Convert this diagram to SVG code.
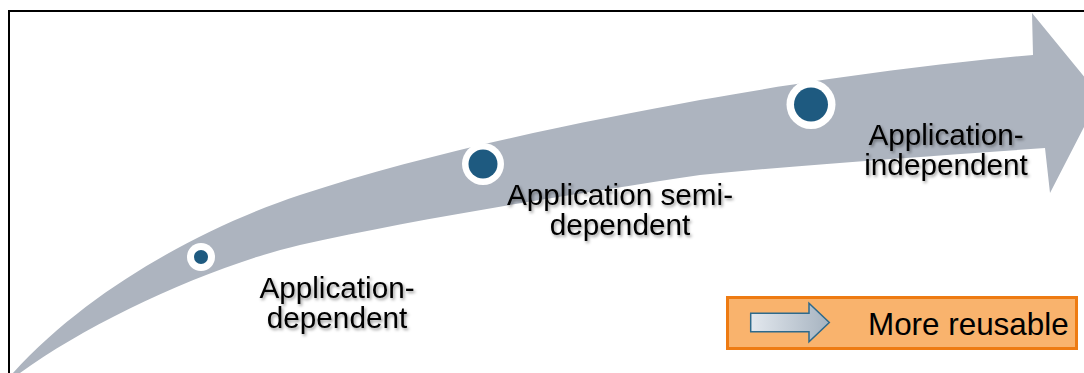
<svg xmlns="http://www.w3.org/2000/svg" width="1084" height="373" viewBox="0 0 1084 373">
<defs>
<filter id="sh" x="-10%" y="-20%" width="130%" height="150%">
<feDropShadow dx="1.5" dy="2" stdDeviation="1.4" flood-color="#000" flood-opacity="0.4"/>
</filter>
<linearGradient id="ag" x1="0" y1="0" x2="1" y2="0">
<stop offset="0" stop-color="#E3E8EE"/>
<stop offset="1" stop-color="#A6B3C0"/>
</linearGradient>
<style>
.lbl{font-family:"Liberation Sans",Arial,sans-serif;font-size:29.7px;fill:#000;text-anchor:middle;filter:url(#sh)}
.ring{fill:#fff}
.dot{fill:#1E5A80}
</style>
</defs>
<rect x="0" y="0" width="1084" height="373" fill="#fff"/>
<rect x="9" y="11" width="1100" height="400" fill="none" stroke="#000" stroke-width="2"/>
<g id="connectors">
<path id="band" d="M13,373 C93,285 210,225 300,195 C430,152 580,122 700,100 C800,82 930,64 1033,55 L1032,13 L1100,96 L1050,193 L1045,148 C930,156 800,165 700,175 C580,193 420,218 300,245 C210,266 90,322 20,373 Z" fill="#ADB4BF"/>
</g>
<g id="node-dependent">
<circle class="ring" cx="201" cy="257" r="14"/>
<circle class="dot" cx="201" cy="257" r="7"/>
<text class="lbl" x="337" y="298">Application-</text>
<text class="lbl" x="337" y="328">dependent</text>
</g>
<g id="node-semi">
<circle class="ring" cx="483" cy="164" r="21"/>
<circle class="dot" cx="483" cy="164" r="14.5"/>
<text class="lbl" x="620" y="205">Application semi-</text>
<text class="lbl" x="620" y="235">dependent</text>
</g>
<g id="node-independent">
<circle class="ring" cx="811" cy="104.5" r="24.5"/>
<circle class="dot" cx="811" cy="104.5" r="17"/>
<text class="lbl" x="946" y="145">Application-</text>
<text class="lbl" x="946" y="175">independent</text>
</g>
<g id="legend">
<rect x="727.5" y="297.5" width="349" height="51" fill="#F9B36D" stroke="#EE7B12" stroke-width="3"/>
<path d="M750.7,313.3 L809,313.3 L809,303.3 L829.3,322.5 L809,341.7 L809,331.7 L750.7,331.7 Z" fill="url(#ag)" stroke="#2E6A8C" stroke-width="1.5"/>
<text x="868" y="335" font-family="Liberation Sans, Arial, sans-serif" font-size="31.4" fill="#000">More reusable</text>
</g>
</svg>
